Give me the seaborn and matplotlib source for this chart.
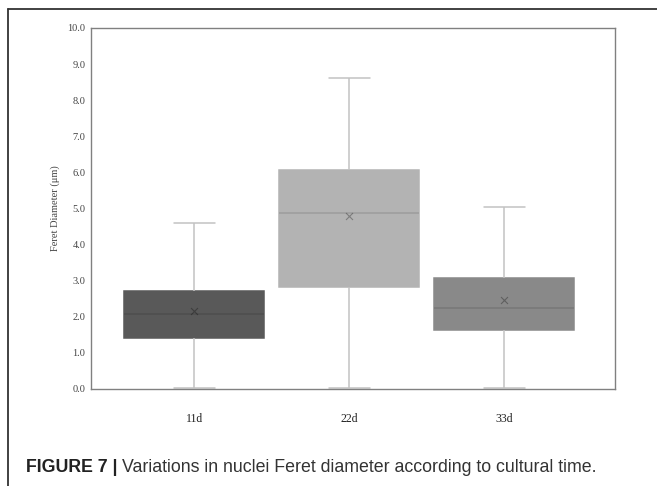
import pandas as pd
import matplotlib
matplotlib.use('Agg')
import matplotlib.pyplot as plt
import seaborn as sns
from matplotlib.lines import Line2D
from matplotlib.ticker import FormatStrFormatter

# five-number summaries, plus the means (the "x" markers)
days = ["11d", "22d", "33d"]
mins = [0.02, 0.02, 0.02]
q1s = [1.41, 2.83, 1.63]
medians = [2.07, 4.88, 2.25]
q3s = [2.71, 6.07, 3.07]
maxs = [4.60, 8.62, 5.04]
means = [2.15, 4.80, 2.47]
box_colors = {"11d": "#595959", "22d": "#b3b3b3", "33d": "#898989"}

rows = []
for d, a, b, c, e, f in zip(days, mins, q1s, medians, q3s, maxs):
    for v in (a, b, c, e, f):
        rows.append({"Day": d, "Feret": v})
df = pd.DataFrame(rows)

sns.set_style("white")
plt.rcParams['font.family'] = ['Liberation Serif', 'DejaVu Serif']

fig = plt.figure(figsize=(6.57, 4.86), dpi=100)
ax = fig.add_axes([0.1385, 0.1996, 0.7976, 0.7428])

sns.boxplot(data=df, x="Day", y="Feret", hue="Day", order=days, palette=box_colors,
            legend=False, whis=(0, 100), width=0.9, linecolor="#c2c2c2", linewidth=1.1,
            capwidths=0.265, medianprops={"color": (0, 0, 0, 0.13)}, ax=ax)
for p in ax.patches:
    p.set_edgecolor(p.get_facecolor())

sns.stripplot(x=days, y=means, order=days, marker="x", jitter=False, size=5,
              linewidth=0.8, color=(0, 0, 0, 0.3), ax=ax)

ax.set_xlim(-0.665, 2.715)
ax.set_ylim(0, 10)
ax.set_yticks(range(0, 11))
ax.yaxis.set_major_formatter(FormatStrFormatter('%.1f'))
ax.tick_params(axis='y', length=0, pad=4, labelsize=7.5, labelcolor="#444444")
ax.tick_params(axis='x', length=0, pad=17, labelsize=8.5, labelcolor="#222222")
ax.set_xlabel("")
ax.set_ylabel("Feret Diameter (μm)", fontsize=7.5, color="#444444")
ax.yaxis.set_label_coords(-0.059, 0.5)
for s in ax.spines.values():
    s.set_color("#808080")
    s.set_linewidth(1.0)

# outer caption frame
fig.add_artist(Line2D([0.0122, 1.0], [0.9825, 0.9825], transform=fig.transFigure, color="#333333", lw=1.3))
fig.add_artist(Line2D([0.0122, 0.0122], [0.0, 0.9825], transform=fig.transFigure, color="#333333", lw=1.3))

t1 = fig.text(0.039, 0.0288, "FIGURE 7 | ", fontsize=12.8, fontweight='bold',
              family=['Liberation Sans', 'DejaVu Sans'], color="#222222", va='baseline')
renderer = fig.canvas.get_renderer()
bb = t1.get_window_extent(renderer=renderer)
x2 = fig.transFigure.inverted().transform((bb.x1, bb.y0))[0]
fig.text(x2, 0.0288, "Variations in nuclei Feret diameter according to cultural time.",
         fontsize=12.8, family=['Liberation Sans', 'DejaVu Sans'], color="#333333", va='baseline')

fig.savefig("out.png", dpi=100)
